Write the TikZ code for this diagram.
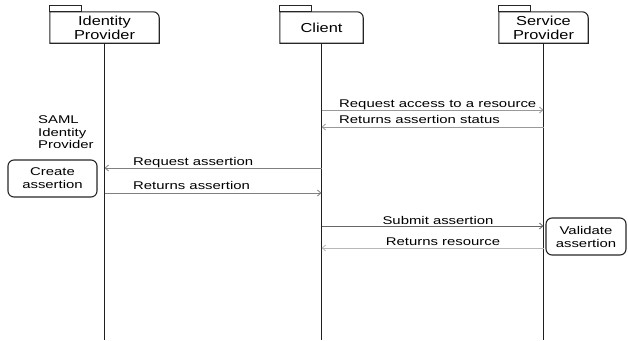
\documentclass[tikz,border=0pt]{standalone}
\usepackage{fontspec}
\setmainfont{Liberation Sans}[FakeStretch=1.33]
\newfontfamily\headfont{Liberation Sans}[FakeStretch=1.26]
\usetikzlibrary{arrows.meta}
\begin{document}
\begin{tikzpicture}[x=1pt,y=-1pt,
  lifeline/.style={draw=black!88,line width=1.3pt},
  pkgline/.style={draw=black!85,line width=1.1pt},
  pkg/.style={inner sep=0pt,minimum height=31pt,align=center,
    font=\headfont\fontsize{13}{14}\selectfont},
  msg/.style={line width=0.8pt,-{Straight Barb[length=3.5pt,width=6pt]}},
  msglabel/.style={inner sep=0pt,font=\fontsize{11.2}{12.5}\selectfont},
  actbox/.style={draw=black!85,line width=1.1pt,rounded corners=6pt,
    inner sep=0pt,align=center,font=\fontsize{11.2}{13}\selectfont}]
\useasboundingbox (0,0) rectangle (628,340);

% participant headers (folder shape: tab on the left, rounded top-right corner)
\newcommand\pkgframe[1]{%
  \draw[pkgline] (#1.south west) -- (#1.north west)
    -- ([xshift=-6pt]#1.north east) arc[start angle=90,end angle=0,radius=6pt]
    -- (#1.south east) -- cycle;
  \draw[pkgline] (#1.north west) rectangle ([xshift=32pt,yshift=6pt]#1.north west);}
\node[pkg,minimum width=109pt] (idp) at (104.5,27.5) {Identity\\Provider};
\node[pkg,minimum width=83pt] (cli) at (321.5,27.5) {Client};
\node[pkg,minimum width=89pt] (sp) at (543.5,27.5) {Service\\Provider};
\pkgframe{idp}\pkgframe{cli}\pkgframe{sp}

% lifelines
\coordinate (idpend) at (idp.south |- 0,340);
\coordinate (cliend) at (cli.south |- 0,340);
\coordinate (spend)  at (sp.south |- 0,340);
\draw[lifeline] (idp.south) -- (idpend);
\draw[lifeline] (cli.south) -- (cliend);
\draw[lifeline] (sp.south) -- (spend);

% message end points on the lifelines
\foreach \n/\y in {1/110,2/127,3/168,4/193,5/226,6/248}{
  \coordinate (i\n) at (idp.south |- 0,\y);
  \coordinate (c\n) at (cli.south |- 0,\y);
  \coordinate (s\n) at (sp.south |- 0,\y);}

% messages
\draw[msg,draw=black!40] (c1) -- (s1);
\node[msglabel,anchor=base west] (l1) at (339,107.5) {Request access to a resource};
\draw[msg,draw=black!40] (s2) -- (c2);
\node[msglabel,anchor=base west] (l2) at (339,123) {Returns assertion status};
\draw[msg,draw=black!50] (c3) -- (i3);
\node[msglabel,anchor=base west] (l3) at (133,165.5) {Request assertion};
\draw[msg,draw=black!50] (i4) -- (c4);
\node[msglabel,anchor=base west] (l4) at (133,189.5) {Returns assertion};
\draw[msg,draw=black!60] (c5) -- (s5);
\node[msglabel,anchor=base] (l5) at (438,224.5) {Submit assertion};
\draw[msg,draw=black!28] (s6) -- (c6);
\node[msglabel,anchor=base] (l6) at (443,245) {Returns resource};

% notes and activities
\node[msglabel,anchor=north west,align=left] (saml) at (38,115.5)
  {SAML\\Identity\\Provider};
\node[actbox,minimum width=89pt,minimum height=37pt] (create) at (52.5,178.5)
  {Create\\assertion};
\node[actbox,minimum width=80pt,minimum height=37pt] (validate) at (586,236.5)
  {Validate\\assertion};
\end{tikzpicture}
\end{document}
